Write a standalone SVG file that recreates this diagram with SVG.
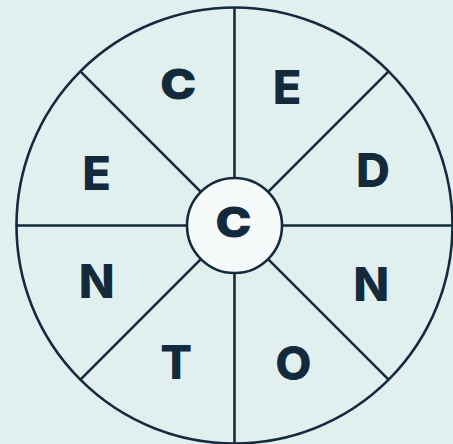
<svg xmlns="http://www.w3.org/2000/svg" width="453" height="444" viewBox="0 0 453 444">
  <style>
    .ln { stroke: #142a3e; stroke-width: 2.6; fill: none; }
    .outer { fill: #e2efef; }
    .inner { fill: #f6fafb; }
    .lt { font-family: Inter, "Liberation Sans", sans-serif; font-weight: 800; font-size: 47px; fill: #132a3d; text-anchor: middle; }
    .sc { font-size: 41px; stroke: #132a3d; stroke-width: 1; }
  </style>
  <rect width="453" height="444" fill="#e2efef"/>
  <g id="wheel">
    <circle cx="234.5" cy="225.5" r="218" class="ln outer"/>
  </g>
  <g id="spokes">
    <line class="ln" x1="234.5" y1="7.5" x2="234.5" y2="443.5"/>
    <line class="ln" x1="16.5" y1="225.5" x2="452.5" y2="225.5"/>
    <line class="ln" x1="80.4" y1="71.4" x2="388.6" y2="379.6"/>
    <line class="ln" x1="388.6" y1="71.4" x2="80.4" y2="379.6"/>
  </g>
  <g id="center">
    <circle cx="234.5" cy="225.5" r="47.5" class="ln inner"/>
    <text class="lt sc" x="233.5" y="237" transform="translate(233.5 0) scale(1.16 1) translate(-233.5 0)">C</text>
  </g>
  <g id="l1"><text class="lt sc" x="178.3" y="99.5" transform="translate(178.3 0) scale(1.16 1) translate(-178.3 0)">C</text></g>
  <g id="l2"><text class="lt" x="287" y="104">E</text></g>
  <g id="l3"><text class="lt" x="373" y="187">D</text></g>
  <g id="l4"><text class="lt" x="371.3" y="301">N</text></g>
  <g id="l5"><text class="lt" x="293.3" y="380">O</text></g>
  <g id="l6"><text class="lt" x="176.2" y="379">T</text></g>
  <g id="l7"><text class="lt" x="96.7" y="298">N</text></g>
  <g id="l8"><text class="lt" x="96.5" y="190">E</text></g>
</svg>
